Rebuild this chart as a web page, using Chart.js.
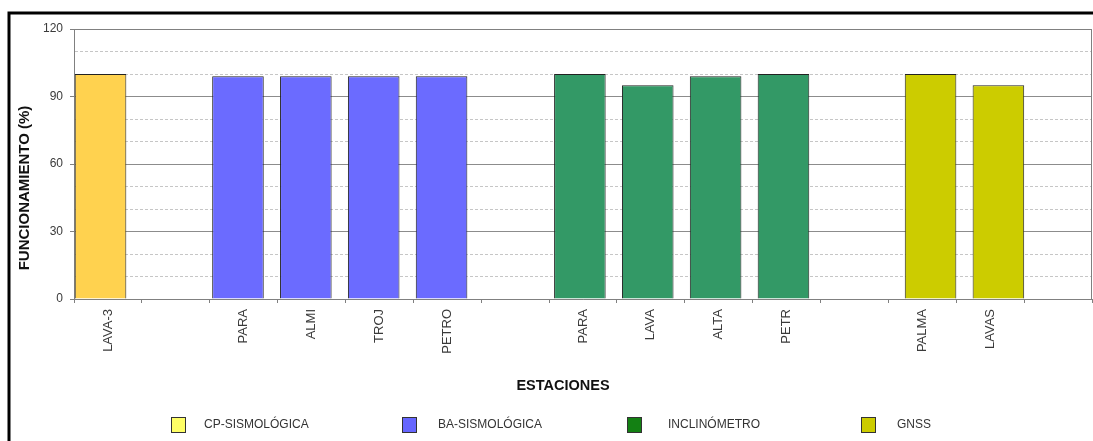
<!DOCTYPE html>
<html>
<head>
<meta charset="utf-8">
<script src="https://cdn.jsdelivr.net/npm/chart.js@4.4.1/dist/chart.umd.min.js"></script>
<style>
  html, body { margin: 0; padding: 0; background: #ffffff; }
  #wrap { width: 1093px; height: 441px; position: relative; }
</style>
</head>
<body>
<div id="wrap"><canvas id="c" width="1093" height="441"></canvas></div>
<script>
// Stations along the x axis (empty slots separate the station groups)
const categories = ['LAVA-3', '', 'PARA', 'ALMI', 'TROJ', 'PETRO', '', 'PARA', 'LAVA', 'ALTA', 'PETR', '', 'PALMA', 'LAVAS', ''];

// Uptime (%) per network, one value per slot
const cpSismologica = [100, null, null, null, null, null, null, null, null, null, null, null, null, null, null];
const baSismologica = [null, null, 99, 99, 99, 99, null, null, null, null, null, null, null, null, null];
const inclinometro  = [null, null, null, null, null, null, null, 100, 95, 99, 100, null, null, null, null];
const gnss          = [null, null, null, null, null, null, null, null, null, null, null, null, 100, 95, null];

const seriesNames = ['CP-SISMOLÓGICA', 'BA-SISMOLÓGICA', 'INCLINÓMETRO', 'GNSS'];
const yTickLabels = [0, 30, 60, 90, 120];

const FONT = "'Liberation Sans', Arial, Helvetica, sans-serif";
Chart.defaults.font.family = FONT;

const barColors    = ['#FFD24F', '#6B6BFF', '#339966', '#CCCC00'];
const legendColors = ['#FFFF66', '#6666FF', '#138013', '#CCCC00'];

// Horizontal placement of each network's bars inside its slot:
// shift of the bar centre (fraction of the slot) and bar width (fraction of the slot).
const BAR_WIDTH = 0.76;
function placement(shift) {
  const size = 4 * Math.abs(shift);
  return {
    stack: shift < 0 ? 'left' : 'right',
    categoryPercentage: size,
    barPercentage: BAR_WIDTH / (size / 2)
  };
}
const shifts = [-0.109, -0.084, -0.046, 0.121];

const seriesData = [cpSismologica, baSismologica, inclinometro, gnss];
const datasets = seriesData.map((values, i) => Object.assign({
  label: seriesNames[i],
  data: values,
  backgroundColor: barColors[i],
  borderColor: '#222222',
  borderWidth: 1,
  borderSkipped: 'bottom'
}, placement(shifts[i])));

const isMajor = (ctx) => ctx.tick && yTickLabels.includes(ctx.tick.value);

const decorations = {
  id: 'decorations',
  beforeDraw(chart) {
    const ctx = chart.ctx;
    ctx.save();
    ctx.fillStyle = '#ffffff';
    ctx.fillRect(0, 0, chart.width, chart.height);
    ctx.restore();
  },
  afterDraw(chart) {
    const ctx = chart.ctx;
    const a = chart.chartArea;
    ctx.save();

    // plot frame
    ctx.strokeStyle = '#808080';
    ctx.lineWidth = 1;
    ctx.beginPath();
    ctx.moveTo(a.left, a.top + 0.5);
    ctx.lineTo(a.right - 0.5, a.top + 0.5);
    ctx.lineTo(a.right - 0.5, a.bottom);
    ctx.stroke();

    // outer panel border (left and top)
    ctx.strokeStyle = '#000000';
    ctx.lineWidth = 3;
    ctx.beginPath();
    ctx.moveTo(9, chart.height);
    ctx.lineTo(9, 13);
    ctx.lineTo(chart.width, 13);
    ctx.stroke();

    // axis titles
    ctx.fillStyle = '#111111';
    ctx.textAlign = 'center';
    ctx.textBaseline = 'middle';
    ctx.font = 'bold 14.5px ' + FONT;
    ctx.fillText('ESTACIONES', 563, 386);
    ctx.save();
    ctx.translate(25, 188);
    ctx.rotate(-Math.PI / 2);
    ctx.font = 'bold 15px ' + FONT;
    ctx.fillText('FUNCIONAMIENTO (%)', 0, 0);
    ctx.restore();

    // legend
    const boxX  = [171, 402, 627, 861];
    const textX = [204, 438, 668, 897];
    ctx.font = '12px ' + FONT;
    ctx.textAlign = 'left';
    ctx.textBaseline = 'middle';
    seriesNames.forEach((name, i) => {
      ctx.fillStyle = legendColors[i];
      ctx.fillRect(boxX[i] + 0.5, 417.5, 14, 15);
      ctx.strokeStyle = '#333333';
      ctx.lineWidth = 1;
      ctx.strokeRect(boxX[i] + 0.5, 417.5, 14, 15);
      ctx.fillStyle = '#333333';
      ctx.fillText(name, textX[i], 425);
    });
    ctx.restore();
  }
};

new Chart(document.getElementById('c'), {
  type: 'bar',
  data: { labels: categories, datasets },
  options: {
    responsive: false,
    devicePixelRatio: 1,
    animation: false,
    layout: { padding: { top: 29, right: 1, bottom: 42, left: 0 } },
    plugins: { legend: { display: false }, tooltip: { enabled: false } },
    scales: {
      x: {
        offset: true,
        grid: { offset: true, drawOnChartArea: false, tickLength: 4, tickColor: '#808080' },
        border: { color: '#808080' },
        ticks: { autoSkip: false, minRotation: 90, maxRotation: 90, padding: 6, color: '#3a3a3a', font: { size: 13 } },
        afterFit(scale) { scale.height = 100; }
      },
      y: {
        min: 0,
        max: 120,
        ticks: {
          stepSize: 10,
          padding: 7,
          color: '#3a3a3a',
          font: { size: 12 },
          callback: (v) => yTickLabels.includes(v) ? String(v) : ''
        },
        grid: {
          color: (c) => isMajor(c) ? '#8c8c8c' : '#c6c6c6',
          tickColor: (c) => isMajor(c) ? '#808080' : 'rgba(0,0,0,0)',
          tickLength: 4
        },
        border: {
          color: '#808080',
          dash: (c) => (c.tick && !yTickLabels.includes(c.tick.value)) ? [3, 2] : []
        },
        afterFit(scale) { scale.width = 74; }
      }
    }
  },
  plugins: [decorations]
});
</script>
</body>
</html>
